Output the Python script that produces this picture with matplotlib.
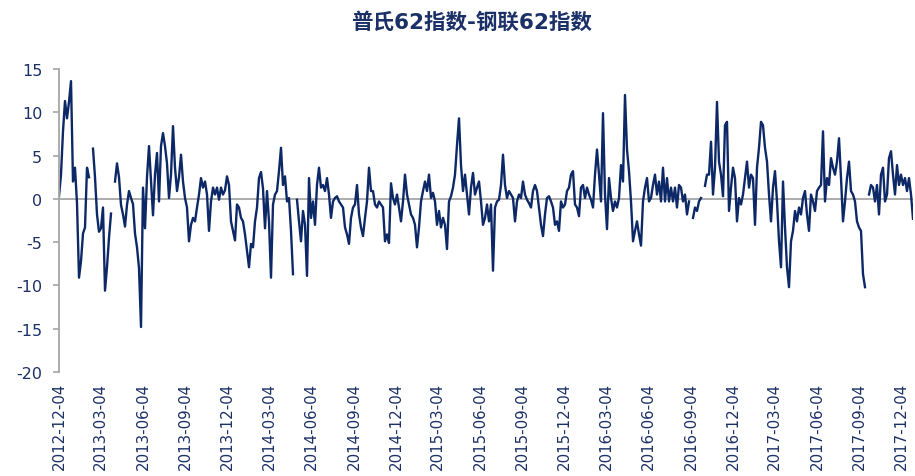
import numpy as np
import pandas as pd
import matplotlib
matplotlib.use('Agg')
import matplotlib.pyplot as plt
import matplotlib.dates as mdates

nan = np.nan

# spread between the two indexes (gaps = missing days)
spread = [
    0.3, 2.8, 7.8, 11.3, 9.3, 11.2, 13.6, 2.0, 3.6, -0.5,
    -9.1, -7.2, -4.0, -3.3, 3.6, 2.5, nan, 5.8, 2.5, -1.8,
    -3.8, -3.4, -1.0, -10.6, -7.9, -4.5, -1.7, nan, 2.0, 4.1,
    2.5, -0.7, -1.8, -3.2, -0.7, 0.9, 0.1, -0.6, -4.0, -5.6,
    -8.0, -14.8, 1.3, -3.4, 2.5, 6.1, 2.0, -1.9, 2.8, 5.3,
    -0.3, 6.1, 7.6, 6.1, 4.1, 0.1, 2.8, 8.4, 3.6, 0.9,
    2.5, 5.1, 2.0, 0.1, -1.0, -4.9, -3.0, -2.2, -2.6, -1.0,
    0.5, 2.4, 1.3, 2.0, 0.5, -3.7, -0.3, 1.3, 0.5, 1.3,
    -0.1, 1.3, 0.5, 1.0, 2.6, 1.6, -2.6, -3.7, -4.8, -0.65,
    -1.0, -2.2, -2.6, -4.1, -6.0, -7.9, -5.2, -5.6, -2.6, -1.0,
    2.4, 3.1, 1.2, -3.4, 0.9, -2.6, -9.1, -0.65, 0.5, 0.9,
    3.2, 5.9, 1.6, 2.6, -0.3, 0.1, -3.7, -8.7, nan, -0.1,
    -2.6, -4.9, -1.4, -3.0, -8.9, 2.4, -2.2, -0.3, -3.0, 1.6,
    3.6, 1.3, 1.6, 0.9, 2.4, 0.5, -2.2, -0.3, 0.1, 0.3,
    -0.3, -0.65, -1.0, -3.3, -4.1, -5.2, -2.2, -1.0, -0.65, 1.6,
    -1.8, -3.3, -4.3, -2.2, -0.3, 3.6, 0.9, 0.9, -0.65, -1.0,
    -0.3, -0.65, -1.0, -4.9, -4.1, -5.1, 1.8, 0.1, -0.65, 0.5,
    -1.0, -2.6, -0.3, 2.8, 0.5, -0.65, -1.8, -2.2, -3.0, -5.6,
    -3.3, -0.3, 0.9, 2.0, 0.9, 2.8, 0.1, 0.7, -0.3, -3.0,
    -1.4, -3.3, -2.2, -3.0, -5.8, -0.3, 0.3, 1.3, 2.8, 6.2,
    9.3, 3.9, 0.9, 2.8, 0.5, -1.8, 1.3, 3.0, 0.5, 1.3,
    2.0, -0.3, -3.0, -2.2, -0.65, -2.6, -0.65, -8.3, -1.0, -0.3,
    -0.1, 1.6, 5.1, 1.6, 0.1, 0.9, 0.5, 0.1, -2.6, -0.3,
    0.5, 0.1, 2.0, 0.5, -0.1, -0.5, -1.0, 0.9, 1.6, 0.9,
    -1.0, -3.0, -4.3, -1.8, 0.1, 0.3, -0.3, -1.0, -3.0, -2.6,
    -3.7, -0.3, -1.0, -0.65, 0.9, 1.3, 2.8, 3.2, -0.65, -1.0,
    -2.0, 1.3, 1.6, 0.1, 1.3, 0.5, -0.1, -1.0, 2.8, 5.7,
    2.8, -0.3, 9.9, 0.5, -3.5, 2.4, 0.1, -1.4, -0.3, -1.0,
    0.1, 3.9, 2.0, 12.0, 5.7, 3.2, -0.3, -4.9, -3.7, -2.6,
    -4.1, -5.4, -0.3, 1.3, 2.4, -0.3, 0.1, 1.6, 2.8, 0.5,
    2.0, -0.3, 3.6, -0.3, 2.4, -0.3, 1.3, -0.3, 1.3, -1.0,
    1.6, 1.3, -0.3, 0.5, -1.8, -0.3, nan, -2.2, -1.0, -1.4,
    -0.3, 0.1, nan, 1.5, 2.8, 2.8, 6.6, 0.5, 3.6, 11.2,
    4.3, 2.8, 0.3, 8.5, 8.9, -1.4, 1.3, 3.6, 2.4, -2.6,
    0.1, -0.65, 0.5, 2.4, 4.3, 1.3, 2.8, 2.4, -3.0, 3.6,
    5.9, 8.9, 8.5, 5.9, 4.3, 0.5, -2.6, 1.3, 3.2, -0.3,
    -4.9, -7.9, 2.0, -3.3, -7.9, -10.2, -4.9, -3.7, -1.4, -2.6,
    -1.0, -1.8, 0.1, 0.9, -1.8, -3.7, 0.5, -0.3, -1.4, 0.9,
    1.3, 1.6, 7.8, -0.3, 2.4, 1.6, 4.7, 3.6, 2.8, 4.3,
    7.0, 2.4, -2.6, -0.3, 2.4, 4.3, 0.9, 0.5, -0.3, -2.6,
    -3.3, -3.7, -8.7, -10.2, nan, 0.5, 1.6, 1.3, -0.3, 1.6,
    -1.8, 2.8, 3.6, -0.3, 0.5, 4.7, 5.5, 2.8, 0.5, 3.9,
    1.6, 2.8, 1.6, 2.4, 0.9, 2.4, 0.5, -2.3,
]

dates = pd.date_range('2012-12-04', periods=len(spread), freq='104h')
tick_dates = pd.date_range('2012-12-01', '2017-12-01', freq='3MS') + pd.Timedelta(days=3)

title = '普氏62指数-钢联62指数'
navy = '#0c2866'
text_color = '#1b3066'
grey = '#a6a6a6'

plt.rcParams['font.family'] = ['DejaVu Sans', 'Noto Sans CJK SC']
plt.rcParams['axes.unicode_minus'] = False

fig = plt.figure(figsize=(9.15, 4.77), dpi=100)
ax = fig.add_axes([59 / 915, 1 - 373 / 477, (913 - 59) / 915, (373 - 70) / 477])

ax.axhline(0, color=grey, lw=1.3, zorder=1)
ax.plot(dates, spread, color=navy, lw=1.7, zorder=2)

ax.set_ylim(-20, 15)
ax.set_yticks(range(-20, 16, 5))
ax.set_xlim(dates[0], dates[-1])
ax.set_xticks(tick_dates)
ax.xaxis.set_major_formatter(mdates.DateFormatter('%Y-%m-%d'))

for side in ['top', 'right', 'bottom']:
    ax.spines[side].set_visible(False)
ax.spines['left'].set_color(grey)
ax.spines['left'].set_linewidth(1.3)

ax.tick_params(axis='y', length=4, width=1.2, color=grey, pad=8,
               labelsize=11.5, labelcolor=text_color)
ax.tick_params(axis='x', length=0, pad=7, labelsize=10.8,
               labelcolor=text_color, labelrotation=90)

fig.text(0.515, 0.953, title, ha='center', va='center', fontsize=15.5,
         fontweight='bold', color=text_color)

fig.savefig('out.png', dpi=100)
